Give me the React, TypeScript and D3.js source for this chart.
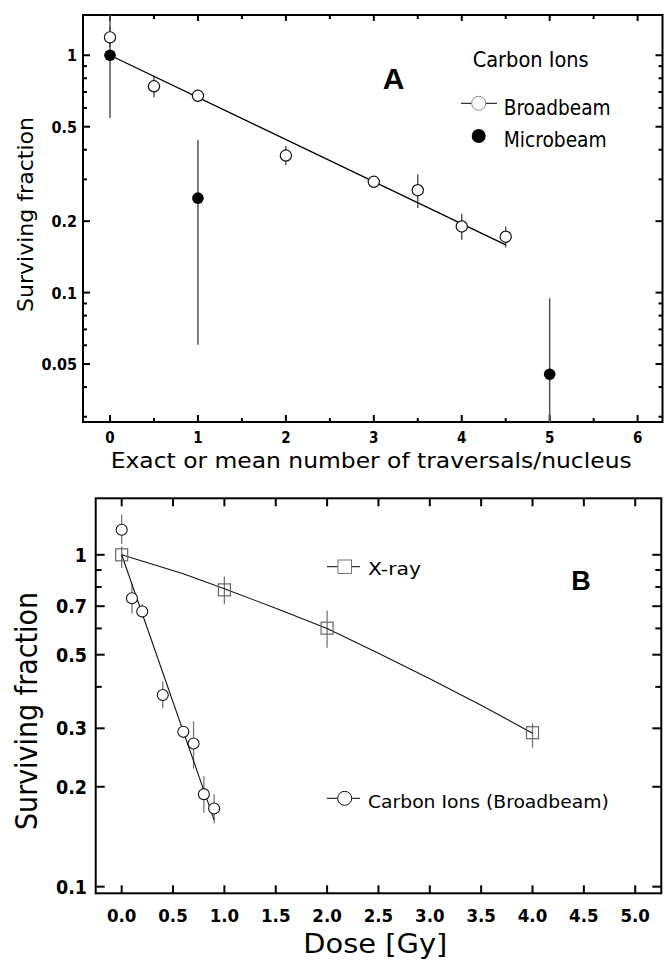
import React from 'react';
import * as d3 from 'd3';

// Panel A: carbon ions, survival vs. traversals/nucleus
const traversals = [0, 0.5, 1, 2, 3, 3.5, 4, 4.5];
const broadDose = [0, 0.1, 0.2, 0.4, 0.6, 0.7, 0.8, 0.9];
const broadSF = [1.19, 0.74, 0.675, 0.378, 0.293, 0.27, 0.19, 0.172];
const broadLo = [1.08, 0.665, 0.645, 0.345, 0.28, 0.227, 0.167, 0.155];
const broadHi = [1.32, 0.82, 0.71, 0.415, 0.305, 0.315, 0.215, 0.19];

const microTrav = [0, 1, 5];
const microSF = [1.0, 0.25, 0.0453];
const microLo = [0.544, 0.0603, 0.02];
const microHi = [2, 0.44, 0.0946];

const fitATrav = [0, 4.5];
const fitASF = [1.0, 0.159];

// Panel B: dose response
const xrayDose = [0, 1, 2, 4];
const xraySF = [1.0, 0.784, 0.601, 0.291];
const xrayLo = [0.913, 0.71, 0.525, 0.262];
const xrayHi = [1.06, 0.86, 0.68, 0.31];

const xrayFitDose = [0, 0.6, 1, 1.5, 2, 2.5, 3, 3.5, 4];
const xrayFitSF = [1, 0.877, 0.79, 0.69, 0.6, 0.505, 0.423, 0.352, 0.29];

const carbonFitDose = [0, 0.9];
const carbonFitSF = [1.0, 0.159];

// ticks
const aXMajor = [0, 1, 2, 3, 4, 5, 6];
const aXMinor = [0.5, 1.5, 2.5, 3.5, 4.5, 5.5];
const aYMajor = [1, 0.5, 0.2, 0.1, 0.05];
const aYMinor = [0.9, 0.8, 0.7, 0.6, 0.4, 0.3, 0.09, 0.08, 0.07, 0.06, 0.04, 0.03];
const bXMajor = [0, 0.5, 1, 1.5, 2, 2.5, 3, 3.5, 4, 4.5, 5];
const bYMajor = [1, 0.7, 0.5, 0.3, 0.2, 0.1];
const bYMinor = [0.9, 0.8, 0.6, 0.4];

const FONT = '"DejaVu Sans", sans-serif';

const A = { left: 83, top: 15, right: 662.5, bottom: 422 };
const B = { left: 95.7, top: 498.3, right: 661.3, bottom: 893.3 };

const App = () => {
  const xA = d3.scaleLinear().domain([-0.307, 6.3]).range([A.left, A.right + 1.5]);
  const yA = d3.scaleLog().domain([0.0285, 1.478]).range([A.bottom, A.top]);
  const xB = d3.scaleLinear().domain([-0.253, 5.254]).range([B.left, B.right]);
  const yB = d3.scaleLog().domain([0.0955, 1.48]).range([B.bottom, B.top]);

  const lineA = d3.line<number>().x((d, i) => xA(fitATrav[i])).y((d) => yA(d));
  const lineXray = d3.line<number>().x((d, i) => xB(xrayFitDose[i])).y((d) => yB(d));
  const lineCarbon = d3.line<number>().x((d, i) => xB(carbonFitDose[i])).y((d) => yB(d));

  return (
    <svg
      width={664}
      height={963}
      viewBox="0 0 664 963"
      style={{ position: 'absolute', left: 0, top: 0, background: '#fff' }}
    >
      <defs>
        <clipPath id="clipA">
          <rect x={A.left} y={A.top} width={A.right - A.left} height={A.bottom - A.top} />
        </clipPath>
        <clipPath id="clipB">
          <rect x={B.left} y={B.top} width={B.right - B.left} height={B.bottom - B.top} />
        </clipPath>
      </defs>

      {/* ---------- Panel A ---------- */}
      <g>
        {aXMajor.map((t) => (
          <g key={'axm' + t}>
            <line x1={xA(t)} x2={xA(t)} y1={A.bottom} y2={A.bottom - 7} stroke="#000" strokeWidth={2} />
            <line x1={xA(t)} x2={xA(t)} y1={A.top} y2={A.top + 6} stroke="#000" strokeWidth={2} />
            <text x={xA(t)} y={443} textAnchor="middle" fontFamily={FONT} fontWeight="bold"
              fontSize={15} style={{ fontStretch: 'condensed' }}>{t}</text>
          </g>
        ))}
        {aXMinor.map((t) => (
          <g key={'axn' + t}>
            <line x1={xA(t)} x2={xA(t)} y1={A.bottom} y2={A.bottom - 4} stroke="#000" strokeWidth={2} />
            <line x1={xA(t)} x2={xA(t)} y1={A.top} y2={A.top + 4} stroke="#000" strokeWidth={2} />
          </g>
        ))}
        {aYMajor.map((t) => (
          <g key={'aym' + t}>
            <line x1={A.left} x2={A.left + 7} y1={yA(t)} y2={yA(t)} stroke="#000" strokeWidth={2} />
            <line x1={A.right} x2={A.right - 7} y1={yA(t)} y2={yA(t)} stroke="#000" strokeWidth={2} />
            <text x={77} y={yA(t) + 6} textAnchor="end" fontFamily={FONT} fontWeight="bold"
              fontSize={16} style={{ fontStretch: 'condensed' }}>{t}</text>
          </g>
        ))}
        {aYMinor.map((t) => (
          <g key={'ayn' + t}>
            <line x1={A.left} x2={A.left + 4} y1={yA(t)} y2={yA(t)} stroke="#000" strokeWidth={2} />
            <line x1={A.right} x2={A.right - 4} y1={yA(t)} y2={yA(t)} stroke="#000" strokeWidth={2} />
          </g>
        ))}

        <rect x={A.left} y={A.top} width={A.right - A.left} height={A.bottom - A.top}
          fill="none" stroke="#000" strokeWidth={2} />

        <g clipPath="url(#clipA)">
          {microTrav.map((t, i) => (
            <line key={'mer' + i} x1={xA(t)} x2={xA(t)} y1={yA(microLo[i])} y2={yA(microHi[i])}
              stroke="#555" strokeWidth={1.5} />
          ))}
          {traversals.map((t, i) => (
            <line key={'ber' + i} x1={xA(t)} x2={xA(t)} y1={yA(broadLo[i])} y2={yA(broadHi[i])}
              stroke="#444" strokeWidth={1.3} />
          ))}
          <path d={lineA(fitASF) || ''} fill="none" stroke="#000" strokeWidth={1.3} />
          {traversals.map((t, i) => (
            <circle key={'bc' + i} cx={xA(t)} cy={yA(broadSF[i])} r={5.6}
              fill="#fff" stroke="#111" strokeWidth={1.2} />
          ))}
          {microTrav.map((t, i) => (
            <circle key={'mc' + i} cx={xA(t)} cy={yA(microSF[i])} r={5.8} fill="#000" />
          ))}
        </g>

        <text x={393.7} y={89} textAnchor="middle" fontFamily='"Liberation Sans", Arial, sans-serif'
          fontWeight="bold" fontSize={30}>A</text>

        <text x={472.7} y={66.7} fontFamily={FONT} fontSize={20.5} textLength={116}
          lengthAdjust="spacingAndGlyphs" style={{ fontStretch: 'condensed' }}>Carbon Ions</text>
        <line x1={461} x2={497} y1={103.3} y2={103.3} stroke="#000" strokeWidth={1} />
        <circle cx={478.7} cy={103.3} r={7} fill="#fff" stroke="#888" strokeWidth={1} />
        <text x={503.7} y={115} fontFamily={FONT} fontSize={21} textLength={107}
          lengthAdjust="spacingAndGlyphs" style={{ fontStretch: 'condensed' }}>Broadbeam</text>
        <circle cx={478.7} cy={136} r={7} fill="#000" />
        <text x={503.7} y={146.7} fontFamily={FONT} fontSize={21} textLength={103}
          lengthAdjust="spacingAndGlyphs" style={{ fontStretch: 'condensed' }}>Microbeam</text>

        <text x={110.7} y={467.7} fontFamily={FONT} fontSize={21} textLength={521}
          lengthAdjust="spacingAndGlyphs" style={{ fontStretch: 'condensed' }}>
          Exact or mean number of traversals/nucleus
        </text>
        <text transform="translate(33,214.5) rotate(-90)" textAnchor="middle" fontFamily={FONT}
          fontSize={22} textLength={195} lengthAdjust="spacingAndGlyphs"
          style={{ fontStretch: 'condensed' }}>Surviving fraction</text>
      </g>

      {/* ---------- Panel B ---------- */}
      <g>
        {bXMajor.map((t) => (
          <g key={'bxm' + t}>
            <line x1={xB(t)} x2={xB(t)} y1={B.bottom} y2={B.bottom - 8} stroke="#000" strokeWidth={2} />
            <line x1={xB(t)} x2={xB(t)} y1={B.top} y2={B.top + 8} stroke="#000" strokeWidth={2} />
            <text x={xB(t)} y={921.7} textAnchor="middle" fontFamily={FONT} fontWeight="bold"
              fontSize={18.5} style={{ fontStretch: 'condensed' }}>{t.toFixed(1)}</text>
          </g>
        ))}
        {bYMajor.map((t) => (
          <g key={'bym' + t}>
            <line x1={B.left} x2={B.left + 9} y1={yB(t)} y2={yB(t)} stroke="#000" strokeWidth={2} />
            <line x1={B.right} x2={B.right - 9} y1={yB(t)} y2={yB(t)} stroke="#000" strokeWidth={2} />
            <text x={87} y={yB(t) + 7} textAnchor="end" fontFamily={FONT} fontWeight="bold"
              fontSize={19.5} style={{ fontStretch: 'condensed' }}>{t}</text>
          </g>
        ))}
        {bYMinor.map((t) => (
          <g key={'byn' + t}>
            <line x1={B.left} x2={B.left + 6} y1={yB(t)} y2={yB(t)} stroke="#000" strokeWidth={2} />
            <line x1={B.right} x2={B.right - 6} y1={yB(t)} y2={yB(t)} stroke="#000" strokeWidth={2} />
          </g>
        ))}

        <rect x={B.left} y={B.top} width={B.right - B.left} height={B.bottom - B.top}
          fill="none" stroke="#000" strokeWidth={2} />

        <g clipPath="url(#clipB)">
          {broadDose.map((d, i) => (
            <line key={'cer' + i} x1={xB(d)} x2={xB(d)} y1={yB(broadLo[i])} y2={yB(broadHi[i])}
              stroke="#777" strokeWidth={1.3} />
          ))}
          {xrayDose.map((d, i) => (
            <line key={'xer' + i} x1={xB(d)} x2={xB(d)} y1={yB(xrayLo[i])} y2={yB(xrayHi[i])}
              stroke="#777" strokeWidth={1.3} />
          ))}
          <path d={lineXray(xrayFitSF) || ''} fill="none" stroke="#111" strokeWidth={1.1} />
          <path d={lineCarbon(carbonFitSF) || ''} fill="none" stroke="#111" strokeWidth={1.1} />
          {xrayDose.map((d, i) => (
            <rect key={'xs' + i} x={xB(d) - 6} y={yB(xraySF[i]) - 6} width={12} height={12}
              fill="none" stroke="#666" strokeWidth={1.2} />
          ))}
          {broadDose.map((d, i) => (
            <circle key={'cc' + i} cx={xB(d)} cy={yB(broadSF[i])} r={5.5}
              fill="#fff" stroke="#111" strokeWidth={1.1} />
          ))}
        </g>

        <text x={581} y={590} textAnchor="middle" fontFamily='"Liberation Sans", Arial, sans-serif'
          fontWeight="bold" fontSize={27}>B</text>

        <line x1={327} x2={360} y1={566.7} y2={566.7} stroke="#000" strokeWidth={1} />
        <rect x={338} y={560} width={13.5} height={13.5} fill="#fff" stroke="#777" strokeWidth={1} />
        <text x={368} y={575} fontFamily={FONT} fontSize={17} textLength={53}
          lengthAdjust="spacingAndGlyphs" style={{ fontStretch: 'condensed' }}>X-ray</text>

        <line x1={327} x2={360} y1={798.3} y2={798.3} stroke="#000" strokeWidth={1} />
        <circle cx={344.7} cy={798.3} r={7} fill="#fff" stroke="#111" strokeWidth={1} />
        <text x={368} y={808.3} fontFamily={FONT} fontSize={17} textLength={240.7}
          lengthAdjust="spacingAndGlyphs" style={{ fontStretch: 'condensed' }}>
          Carbon Ions (Broadbeam)
        </text>

        <text x={303.3} y={953} fontFamily={FONT} fontSize={26} textLength={144}
          lengthAdjust="spacingAndGlyphs" style={{ fontStretch: 'condensed' }}>Dose [Gy]</text>
        <text transform="translate(37,711) rotate(-90)" textAnchor="middle" fontFamily={FONT}
          fontSize={31} textLength={238} lengthAdjust="spacingAndGlyphs"
          style={{ fontStretch: 'condensed' }}>Surviving fraction</text>
      </g>
    </svg>
  );
};

export default App;
